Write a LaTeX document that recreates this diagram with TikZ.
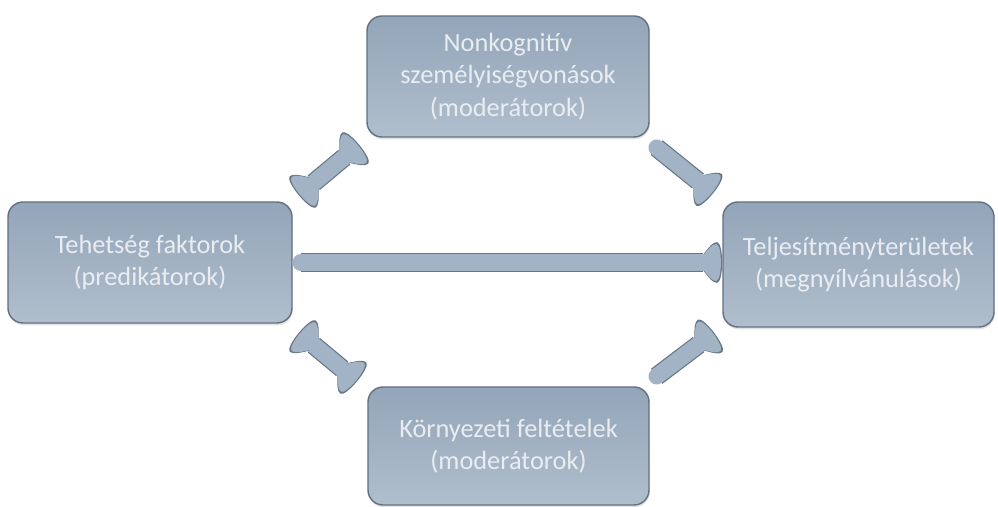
\documentclass[tikz,border=0pt]{standalone}
\usepackage{fontspec}
\setmainfont{Carlito}
\usetikzlibrary{arrows.meta,positioning,shadows}
\definecolor{boxtop}{RGB}{147,165,185}
\definecolor{boxbot}{RGB}{176,190,204}
\definecolor{boxedge}{RGB}{98,112,128}
\definecolor{boxtext}{RGB}{233,237,242}
\definecolor{arrfill}{RGB}{162,179,198}
\definecolor{arredge}{RGB}{104,119,136}
% flared arrow end: rounded cap, narrowing to the shaft
\pgfdeclarearrow{
  name = Flare,
  parameters = {\the\pgfarrowlength,\the\pgfarrowwidth,\the\pgfarrowlinewidth},
  setup code = {
    \pgfarrowssettipend{.05\pgfarrowlength}
    \pgfarrowssetbackend{-\pgfarrowlength}
    \pgfarrowssetlineend{-.6\pgfarrowlength}
    \pgfarrowssavethe\pgfarrowlength
    \pgfarrowssavethe\pgfarrowwidth
    \pgfarrowssavethe\pgfarrowlinewidth
  },
  drawing code = {
    \pgfpathmoveto{\pgfqpoint{-\pgfarrowlength}{.5\pgfarrowlinewidth}}
    \pgfpathcurveto{\pgfqpoint{-.6\pgfarrowlength}{.5\pgfarrowlinewidth}}
      {\pgfqpoint{-.42\pgfarrowlength}{.5\pgfarrowwidth}}{\pgfqpoint{-.12\pgfarrowlength}{.5\pgfarrowwidth}}
    \pgfpathcurveto{\pgfqpoint{.1\pgfarrowlength}{.47\pgfarrowwidth}}
      {\pgfqpoint{.1\pgfarrowlength}{-.47\pgfarrowwidth}}{\pgfqpoint{-.12\pgfarrowlength}{-.5\pgfarrowwidth}}
    \pgfpathcurveto{\pgfqpoint{-.42\pgfarrowlength}{-.5\pgfarrowwidth}}
      {\pgfqpoint{-.6\pgfarrowlength}{-.5\pgfarrowlinewidth}}{\pgfqpoint{-\pgfarrowlength}{-.5\pgfarrowlinewidth}}
    \pgfpathclose
    \pgfusepathqfill
  },
  defaults = {length=14pt, width=22pt}
}
\tikzset{
  flarein/.tip={Flare[length=16pt,width=21pt]},
  flareout/.tip={Flare[length=17.2pt,width=23.2pt]},
  factor/.style={rectangle,rounded corners=0.3cm,draw=boxedge,line width=0.8pt,
    top color=boxtop,bottom color=boxbot,text=boxtext,align=center,inner sep=0pt,
    font=\fontsize{15}{18.5}\selectfont,
    drop shadow={opacity=0.22,shadow xshift=0.4pt,shadow yshift=-1.3pt}},
  oneway/.style={draw=arrfill,line width=9.4pt,line cap=round,-{flarein},shorten >=0.7pt,
    preaction={draw=arredge,line width=10.8pt,-{flareout},shorten >=0pt}},
  twoway/.style={draw=arrfill,line width=9.4pt,{flarein}-{flarein},shorten >=0.7pt,shorten <=0.7pt,
    preaction={draw=arredge,line width=10.8pt,{flareout}-{flareout},shorten >=0pt,shorten <=0pt}},
}
\begin{document}
\begin{tikzpicture}
\useasboundingbox (0,0) rectangle (19.96,10.14);
% the four boxes
\node[factor,minimum width=5.68cm,minimum height=2.42cm] (tf) at (3.00,4.89) {Tehetség faktorok\\(predikátorok)};
\node[factor,minimum width=5.64cm,minimum height=2.42cm] (nk) at (10.16,8.61) {Nonkognitív\\személyiségvonások\\(moderátorok)};
\node[factor,minimum width=5.42cm,minimum height=2.50cm] (tj) at (17.17,4.85) {Teljesítményterületek\\(megnyílvánulások)};
\node[factor,minimum width=5.62cm,minimum height=2.36cm] (kf) at (10.17,1.22) {Környezeti feltételek\\(moderátorok)};
% connectors
\draw[twoway] ([shift={(0.12,0.12)}]tf.north east) -- ([shift={(-0.14,-0.14)}]nk.south west);
\draw[oneway] ([shift={(0.14,-0.20)}]nk.south east) -- ([shift={(-0.18,0.16)}]tj.north west);
\draw[twoway] ([shift={(0.12,-0.18)}]tf.south east) -- ([shift={(-0.20,0.10)}]kf.north west);
\draw[oneway] ([shift={(0.14,0.20)}]kf.north east) -- ([shift={(-0.16,-0.10)}]tj.south west);
\draw[oneway] ([xshift=0.16cm]tf.east) -- (tf.east -| tj.west);
\end{tikzpicture}
\end{document}
